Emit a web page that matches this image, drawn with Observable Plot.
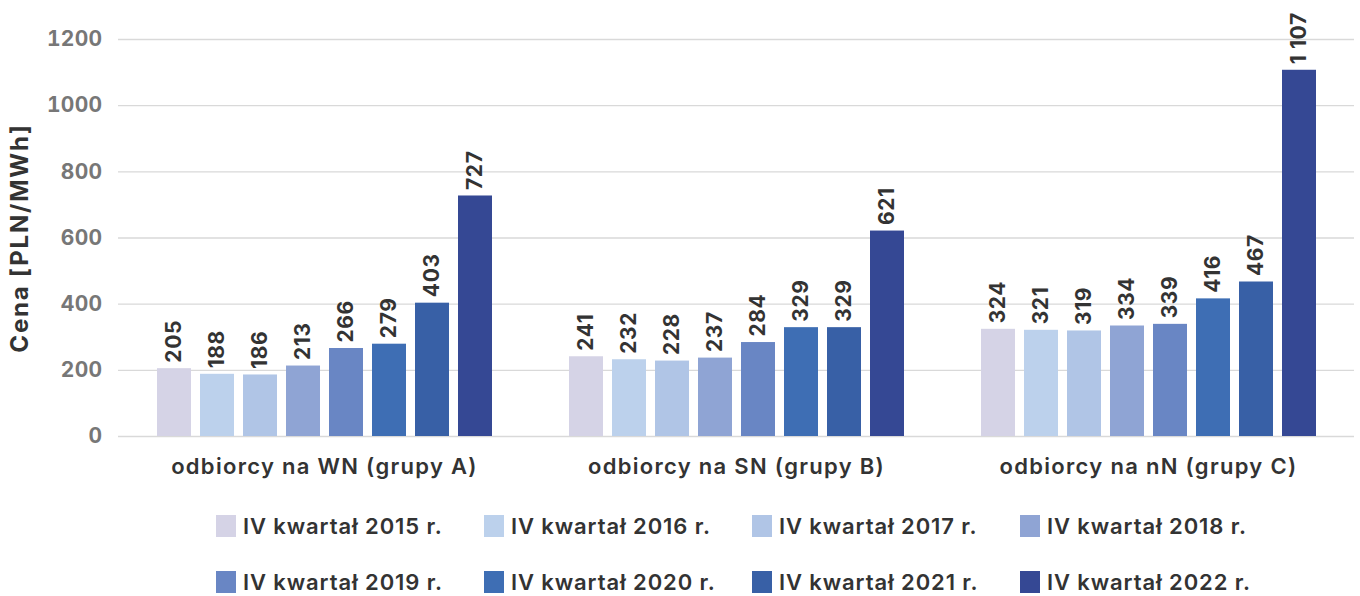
<!DOCTYPE html>
<html><head><meta charset="utf-8">
<script src="https://cdn.jsdelivr.net/npm/d3@7"></script>
<script src="https://cdn.jsdelivr.net/npm/@observablehq/plot@0.6"></script>
<style>
body{margin:0;background:#fff;font-family:Inter,sans-serif;}
#chart{height:498px;}
#legend{display:grid;grid-template-columns:repeat(4,268px);padding-left:216px;}
.item{height:56px;display:flex;align-items:center;font-size:22px;font-weight:600;color:#333;white-space:nowrap;letter-spacing:0.9px;}
.sw{width:20px;height:22px;margin-right:7px;flex:none;}
</style></head><body><div id="chart"></div><div id="legend"></div>
<script>
const groups = ["odbiorcy na WN (grupy A)", "odbiorcy na SN (grupy B)", "odbiorcy na nN (grupy C)"];
const years = ["IV kwartał 2015 r.", "IV kwartał 2016 r.", "IV kwartał 2017 r.", "IV kwartał 2018 r.",
               "IV kwartał 2019 r.", "IV kwartał 2020 r.", "IV kwartał 2021 r.", "IV kwartał 2022 r."];
const colors = ["#d5d3e6", "#bcd1ec", "#b0c5e6", "#8fa4d4", "#6986c4", "#3e6eb4", "#3860a6", "#354894"];
const valuesA = [205, 188, 186, 213, 266, 279, 403, 727];
const valuesB = [241, 232, 228, 237, 284, 329, 329, 621];
const valuesC = [324, 321, 319, 334, 339, 416, 467, 1107];
const yTicks = [0, 200, 400, 600, 800, 1000, 1200];
const yLabel = "Cena [PLN/MWh]";

const seriesByGroup = [valuesA, valuesB, valuesC];
const data = [];
groups.forEach((g, gi) => years.forEach((y, yi) => data.push({group: g, year: y, value: seriesByGroup[gi][yi]})));
const fmt = v => v >= 1000 ? d3.format(",")(v).replace(/,/g, " ") : String(v);

const chart = Plot.plot({
  width: 1360, height: 498,
  marginLeft: 117, marginRight: 5, marginTop: 39, marginBottom: 62,
  style: {fontFamily: "Inter, sans-serif", background: "#fff"},
  fx: {domain: groups, padding: 0, label: null},
  x: {domain: years, paddingInner: 0.21, paddingOuter: 0.88, axis: null},
  y: {domain: [0, 1200]},
  color: {domain: years, range: colors},
  marks: [
    Plot.ruleY(yTicks, {stroke: "#d9d9d9", strokeWidth: 1.3}),
    Plot.barY(data, {fx: "group", x: "year", y: "value", fill: "year"}),
    Plot.text(data, {fx: "group", x: "year", y: "value", text: d => fmt(d.value), rotate: -90,
      textAnchor: "start", lineAnchor: "middle", dy: -6, fontSize: 21, fontWeight: 700, fill: "#333"}),
    Plot.axisY({ticks: yTicks, tickFormat: d => String(d), tickSize: 0, tickPadding: 16, label: yLabel,
      labelAnchor: "center", labelArrow: "none", labelOffset: 108, fontSize: 21, fontWeight: 700, color: "#777"}),
    Plot.axisFx({anchor: "bottom", tickSize: 0, tickPadding: 22, label: null, fontSize: 22, fontWeight: 600, color: "#333"})
  ]
});
document.getElementById("chart").appendChild(chart);
const svg = d3.select(chart);
svg.selectAll('g[aria-label="y-axis label"], g[aria-label="y-axis label"] text')
  .attr("font-size", 24).attr("fill", "#333").attr("font-weight", 700).style("letter-spacing", "1.8px");
svg.selectAll('g[aria-label="y-axis tick label"], g[aria-label="y-axis tick label"] text')
  .attr("font-weight", 700).attr("font-size", 21).style("letter-spacing", "0.3px");
svg.selectAll('g[aria-label="fx-axis tick label"], g[aria-label="fx-axis tick label"] text')
  .attr("font-weight", 600).attr("font-size", 22).attr("fill", "#333").style("letter-spacing", "1.3px");
svg.selectAll('g[aria-label="text"] text').style("letter-spacing", "0.6px");

const legend = d3.select("#legend");
years.forEach((y, i) => {
  const it = legend.append("div").attr("class", "item");
  it.append("div").attr("class", "sw").style("background", colors[i]);
  it.append("span").text(y);
});
</script></body></html>
